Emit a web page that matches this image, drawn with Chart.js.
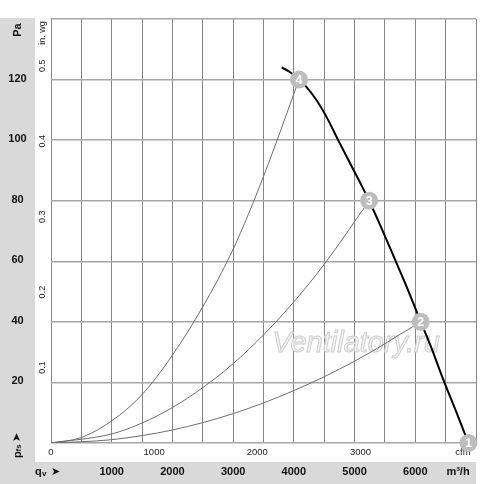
<!DOCTYPE html>
<html>
<head>
<meta charset="utf-8">
<script src="https://cdn.jsdelivr.net/npm/chart.js"></script>
<style>
  html, body { margin: 0; padding: 0; background: #fff; }
  #wrap { width: 500px; height: 484px; position: relative; }
</style>
</head>
<body>
<div id="wrap"><canvas id="fanChart"></canvas></div>
<script>
// flow in m3/h, pressure in Pa
var fanQ = [3800, 3940, 4085, 4210, 4380, 4540, 4730, 4930, 5090, 5240, 5420, 5700, 5860, 6090, 6240, 6460, 6680, 6875];
var fanP = [124, 122.4, 120, 117.5, 113, 107.6, 100, 92.2, 86, 80, 72, 59, 51.5, 40, 32.7, 21, 10, 0];

var sys4Q = [0, 500, 1000, 1500, 2000, 2500, 3000, 3500, 4085];
var sys4P = [0, 1.8, 7.3, 16, 29, 45, 64, 88, 120];
var sys3Q = [0, 1000, 1500, 2000, 2500, 3000, 3500, 4000, 4500, 5240];
var sys3P = [0, 3, 6.6, 11.7, 18.3, 26.2, 35.7, 46.6, 59, 80];
var sys2Q = [0, 1000, 2000, 3000, 4000, 5000, 6090];
var sys2P = [0, 1.1, 4.3, 9.7, 17.3, 27, 40];

var opQ = [6875, 6090, 5240, 4085];
var opP = [0, 40, 80, 120];
var opLabels = ['1', '2', '3', '4'];

var paTicks = [20, 40, 60, 80, 100, 120];
var inwgTicks = [0.1, 0.2, 0.3, 0.4, 0.5];
var m3hTicks = [1000, 2000, 3000, 4000, 5000, 6000];
var cfmTicks = [0, 1000, 2000, 3000];

var CFM_TO_M3H = 1.69901;
var INWG_TO_PA = 249.089;

function pts(xs, ys) {
    return xs.map(function(x, i) { return { x: x, y: ys[i] }; });
}

var BAND = '#d9d9d9';
var SANS = '"Liberation Sans", Arial, sans-serif';

var decorPlugin = {
    id: 'decor',
    beforeDraw: function(chart) {
        var c = chart.ctx, a = chart.chartArea;
        c.save();
        c.fillStyle = '#fff';
        c.fillRect(0, 0, chart.width, chart.height);
        c.fillStyle = BAND;
        c.fillRect(0, a.top - 1, 35, chart.height - a.top + 1);
        c.fillRect(0, 462, a.right, chart.height - 462);
        c.restore();
    },
    beforeDatasetsDraw: function(chart) {
        var c = chart.ctx;
        var xs = chart.scales.x, ys = chart.scales.y;
        c.save();
        // watermark
        c.font = 'italic 29px ' + SANS;
        c.textAlign = 'center';
        c.textBaseline = 'middle';
        c.lineWidth = 1;
        c.fillStyle = '#f5f5f5';
        c.strokeStyle = '#cdcdcd';
        c.fillText('Ventilatory.ru', 356, 344);
        c.strokeText('Ventilatory.ru', 356, 344);

        // Pa labels in the band
        c.fillStyle = '#111';
        c.font = 'bold 11px ' + SANS;
        paTicks.forEach(function(v) {
            c.fillText(String(v), 17.5, ys.getPixelForValue(v) - 1);
        });
        // m3/h labels in the bottom band
        m3hTicks.forEach(function(v) {
            c.fillText(String(v), xs.getPixelForValue(v), 472);
        });
        c.fillText('m\u00b3/h', 458, 472);

        // qv arrow
        c.textAlign = 'left';
        c.fillText('q', 35, 472);
        c.font = 'bold 8px ' + SANS;
        c.fillText('v', 42, 474);
        c.font = 'bold 11px "DejaVu Sans", sans-serif';
        c.fillText('\u27a4', 51, 472);

        // cfm labels
        c.textAlign = 'center';
        c.fillStyle = '#222';
        c.font = '9.5px ' + SANS;
        cfmTicks.forEach(function(v) {
            c.fillText(String(v), xs.getPixelForValue(v * CFM_TO_M3H), 452);
        });
        c.fillText('cfm', 463, 452);

        // rotated labels
        c.save();
        c.translate(17.5, 30);
        c.rotate(-Math.PI / 2);
        c.fillStyle = '#111';
        c.font = 'bold 11px ' + SANS;
        c.fillText('Pa', 0, 0);
        c.restore();

        c.save();
        c.translate(17.5, 458);
        c.rotate(-Math.PI / 2);
        c.textAlign = 'left';
        c.fillStyle = '#111';
        c.font = 'bold 11px ' + SANS;
        c.fillText('p', 0, 0);
        c.font = 'bold 8px ' + SANS;
        c.fillText('fs', 6.5, 1.5);
        c.font = 'bold 11px "DejaVu Sans", sans-serif';
        c.fillText('\u27a4', 16, 0);
        c.restore();

        c.fillStyle = '#222';
        c.font = '9px ' + SANS;
        c.save();
        c.translate(43, 33);
        c.rotate(-Math.PI / 2);
        c.fillText('in. wg', 0, 0);
        c.restore();
        inwgTicks.forEach(function(v) {
            c.save();
            c.translate(43, ys.getPixelForValue(v * INWG_TO_PA));
            c.rotate(-Math.PI / 2);
            c.fillText(String(v), 0, 0);
            c.restore();
        });
        c.restore();
    },
    afterDatasetsDraw: function(chart) {
        var c = chart.ctx;
        var meta = chart.getDatasetMeta(3);
        c.save();
        c.fillStyle = '#fff';
        c.font = 'bold 12.5px ' + SANS;
        c.textAlign = 'center';
        c.textBaseline = 'middle';
        meta.data.forEach(function(el, i) {
            c.fillText(opLabels[i], el.x, el.y + 0.5);
        });
        c.restore();
    }
};

var sysStyle = {
    showLine: true,
    borderColor: '#6e6e6e',
    borderWidth: 1,
    pointRadius: 0,
    cubicInterpolationMode: 'monotone',
    fill: false
};

new Chart(document.getElementById('fanChart'), {
    type: 'scatter',
    data: {
        datasets: [
            Object.assign({ label: 'sys2', data: pts(sys2Q, sys2P) }, sysStyle),
            Object.assign({ label: 'sys3', data: pts(sys3Q, sys3P) }, sysStyle),
            Object.assign({ label: 'sys4', data: pts(sys4Q, sys4P) }, sysStyle),
            {
                label: 'points',
                data: pts(opQ, opP),
                showLine: false,
                pointRadius: 9,
                pointBackgroundColor: '#bdbdbd',
                pointBorderWidth: 0,
                clip: false,
                order: -1
            },
            {
                label: 'fan',
                data: pts(fanQ, fanP),
                showLine: true,
                borderColor: '#000',
                borderWidth: 2,
                pointRadius: 0,
                cubicInterpolationMode: 'monotone',
                fill: false
            }
        ]
    },
    options: {
        responsive: true,
        maintainAspectRatio: false,
        animation: false,
        layout: { padding: { left: 51, right: 24, top: 19, bottom: 41 } },
        plugins: {
            legend: { display: false },
            tooltip: { enabled: false }
        },
        scales: {
            x: {
                type: 'linear',
                min: 0,
                max: 7000,
                ticks: { display: false, stepSize: 500 },
                grid: { color: '#858585', lineWidth: 1, drawTicks: false },
                border: { display: false }
            },
            y: {
                type: 'linear',
                min: 0,
                max: 140,
                ticks: { display: false, stepSize: 20 },
                grid: { color: '#a6a6a6', lineWidth: 1.4, drawTicks: false },
                border: { display: false }
            }
        }
    },
    plugins: [decorPlugin]
});
</script>
</body>
</html>
